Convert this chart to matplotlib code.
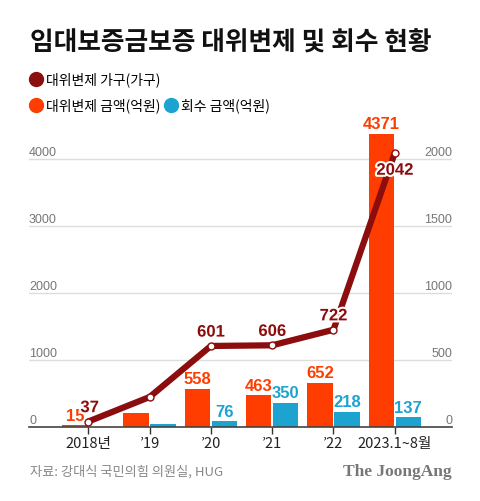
import numpy as np
import matplotlib
matplotlib.use('Agg')
import matplotlib.pyplot as plt
from matplotlib.lines import Line2D
import matplotlib.patheffects as pe

plt.rcParams['font.family'] = ['Noto Sans CJK KR', 'DejaVu Sans']

# Datos
years = ['2018년', '’19', '’20', '’21', '’22', '2023.1~8월']
amount = [15, 200, 558, 463, 652, 4371]          # 대위변제 금액(억원)
recovered = [0, 30, 76, 350, 218, 137]           # 회수 금액(억원)
households = [37, 220, 601, 606, 722, 2042]      # 대위변제 가구(가구)
show_amount = [True, False, True, True, True, True]
show_recovered = [False, False, True, True, True, True]
show_households = [True, False, True, True, True, True]

left_ticks = [0, 1000, 2000, 3000, 4000]
right_ticks = [0, 500, 1000, 1500, 2000]

# Colores
RED = '#ff3d00'
BLUE = '#1ca3d0'
DARK = '#8c0d0d'
GRAY = '#777777'

fig = plt.figure(figsize=(4.8, 5.02), dpi=100, facecolor='white')
ax = fig.add_axes([29 / 480, 74.5 / 502, 423 / 480, 301.5 / 502])
ax2 = ax.twinx()

x = np.arange(len(years))
w = 0.416
off = 0.22

bars_r = ax.bar(x - off, amount, width=w, color=RED, zorder=2)
bars_b = ax.bar(x + off, recovered, width=w, color=BLUE, zorder=2)

ax.bar_label(bars_r, labels=[str(v) if s else '' for v, s in zip(amount, show_amount)],
             padding=2, color=RED, fontsize=12, fontweight='bold',
             family=['Liberation Sans', 'DejaVu Sans'])
ax.bar_label(bars_b, labels=[str(v) if s else '' for v, s in zip(recovered, show_recovered)],
             padding=2, color=BLUE, fontsize=12, fontweight='bold',
             family=['Liberation Sans', 'DejaVu Sans'])

# Línea de hogares
ax2.plot(x, households, color=DARK, lw=4.5, solid_capstyle='round', zorder=3,
         marker='o', markersize=5, markerfacecolor='white', markeredgecolor=DARK,
         markeredgewidth=1)
for i, (v, s) in enumerate(zip(households, show_households)):
    if not s:
        continue
    dy = -12.5 if i == len(households) - 1 else 10
    dx = 1 if i == 0 else 0
    ax2.annotate(str(v), (x[i], v), xytext=(dx, dy), textcoords='offset points',
                 ha='center', va='center', color=DARK, fontsize=12, fontweight='bold',
                 family=['Liberation Sans', 'DejaVu Sans'],
                 path_effects=[pe.withStroke(linewidth=3, foreground='white')])

# Ejes
ax.set_xlim(-0.967, 5.933)
ax.set_ylim(0, 4500)
ax2.set_ylim(0, 2250)

ax.set_xticks(x, labels=years)
ax.tick_params(axis='x', length=5, width=1, color='#333333', labelsize=10.5,
               labelcolor='#222222', pad=2)

ax.set_yticks(left_ticks, labels=[str(t) for t in left_ticks])
ax.tick_params(axis='y', length=0, pad=0, labelsize=9, labelcolor=GRAY)
for lab in ax.get_yticklabels():
    lab.set_horizontalalignment('left')
    lab.set_verticalalignment('bottom')
    lab.set_family(['Liberation Sans', 'DejaVu Sans'])

ax2.set_yticks(right_ticks, labels=[str(t) for t in right_ticks])
ax2.tick_params(axis='y', length=0, pad=0, labelsize=9, labelcolor=GRAY)
for lab in ax2.get_yticklabels():
    lab.set_horizontalalignment('right')
    lab.set_verticalalignment('bottom')
    lab.set_family(['Liberation Sans', 'DejaVu Sans'])

ax.grid(axis='y', color='#dddddd', lw=1)
ax.set_axisbelow(True)
for a in (ax, ax2):
    for sp in ['top', 'left', 'right', 'bottom']:
        a.spines[sp].set_visible(False)
ax.spines['bottom'].set_visible(True)
ax.spines['bottom'].set_color('#444444')
ax.spines['bottom'].set_linewidth(1.2)
ax.spines['bottom'].set_zorder(4)

# Título
fig.text(30 / 480, 1 - 43 / 502, '임대보증금보증 대위변제 및 회수 현황',
         fontsize=18.5, fontweight='black', color='#111111', va='center')

# Leyenda
h_line = Line2D([], [], marker='o', linestyle='none', markersize=10, color=DARK)
h_red = Line2D([], [], marker='o', linestyle='none', markersize=10, color=RED)
h_blue = Line2D([], [], marker='o', linestyle='none', markersize=10, color=BLUE)
fig.legend([h_line], ['대위변제 가구(가구)'], loc='center left',
           bbox_to_anchor=(29 / 480, 1 - 80 / 502), frameon=False,
           fontsize=10, handlelength=1, handletextpad=0.2,
           borderpad=0, borderaxespad=0)
fig.legend([h_red, h_blue], ['대위변제 금액(억원)', '회수 금액(억원)'],
           loc='center left', bbox_to_anchor=(29 / 480, 1 - 106 / 502),
           frameon=False, fontsize=10, handlelength=1, handletextpad=0.2,
           columnspacing=0.3, ncol=2, borderpad=0, borderaxespad=0)

# Fuente
fig.text(30 / 480, 1 - 472 / 502, '자료: 강대식 국민의힘 의원실, HUG',
         fontsize=9.5, color='#888888', va='center')
fig.text(452 / 480, 1 - 472 / 502, 'The JoongAng', fontsize=12.5, fontweight='bold',
         family=['Liberation Serif', 'DejaVu Serif'], color='#777777',
         ha='right', va='center')

fig.savefig('out.png', dpi=100, facecolor='white')
